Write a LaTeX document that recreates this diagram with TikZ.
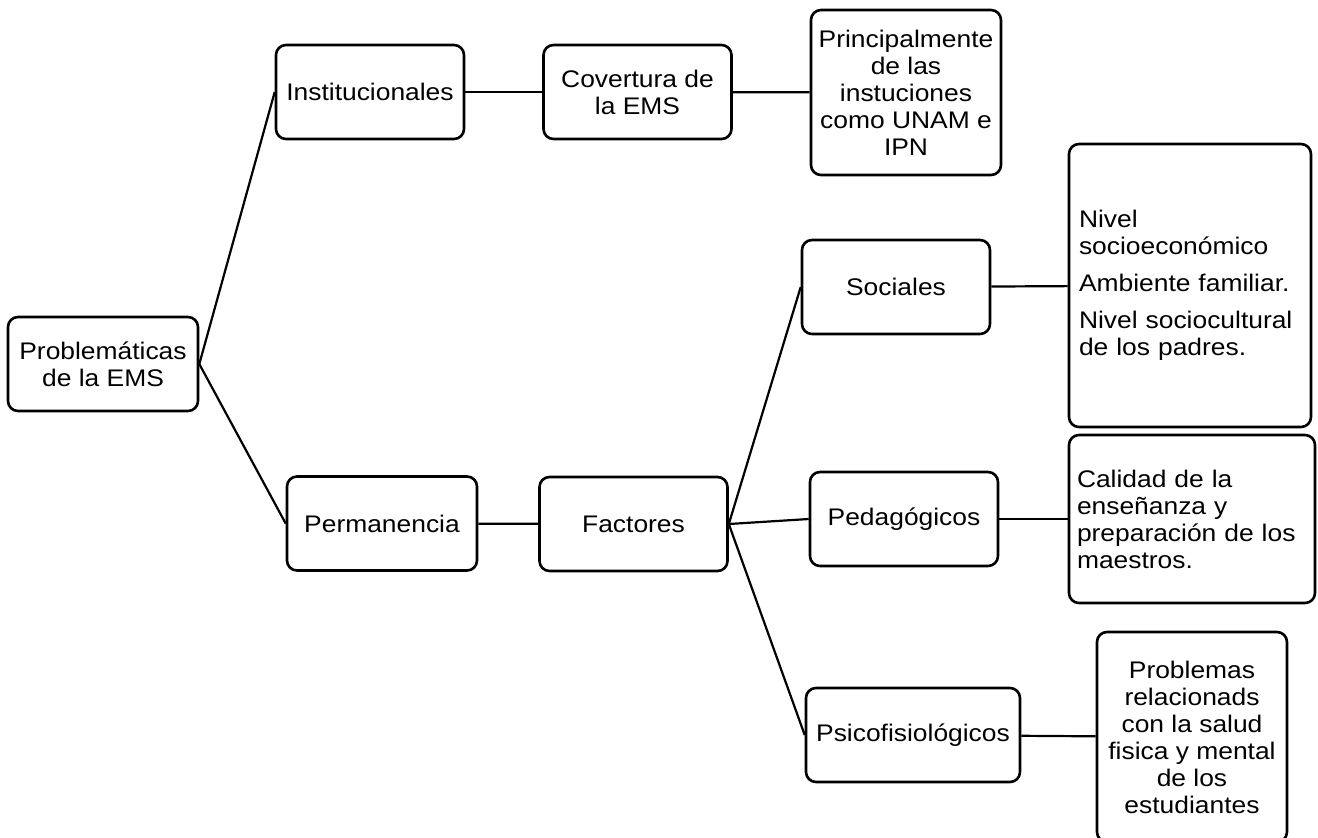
\documentclass[tikz,border=0pt]{standalone}
\usepackage{fontspec}
\setmainfont{Liberation Sans}[FakeStretch=1.1]
\usepackage{tikz}

\begin{document}
\begin{tikzpicture}[
        x=0.5pt, y=-0.5pt,
        caja/.style={rectangle, rounded corners=5pt, draw=black, line width=1.3pt, align=center, inner sep=0pt, font=\fontsize{12}{13.5}\selectfont, minimum width=94pt, minimum height=47pt},
        linea/.style={line width=1.1pt}
    ]
        \useasboundingbox (0,0) rectangle (1318,837);

        \node[caja, minimum width=95pt] (prob) at (103,364) {Problemáticas\\de la EMS};
        \node[caja] (inst) at (370,92) {Institucionales};
        \node[caja] (cov) at (637.5,92) {Covertura de\\la EMS};
        \node[caja, minimum width=95pt, minimum height=82.5pt] (princ) at (906,92.5) {Principalmente\\de las\\instuciones\\como UNAM e\\IPN};
        \node[caja, minimum width=95pt] (perm) at (382,523.5) {Permanencia};
        \node[caja] (fact) at (633.5,524) {Factores};
        \node[caja] (soc) at (896,287) {Sociales};
        \node[caja] (ped) at (904,519) {Pedagógicos};
        \node[caja, minimum width=107pt] (psico) at (913,735) {Psicofisiológicos};
        \node[caja, minimum width=121pt, minimum height=141.5pt, text width=111pt, align=left] (nivel) at (1190,285.5) {Nivel\\socioeconómico\\[5pt]Ambiente familiar.\\[5pt]Nivel sociocultural\\de los padres.};
        \node[caja, minimum width=123pt, minimum height=84pt, text width=115pt, align=left] (calidad) at (1192,519) {Calidad de la\\enseñanza y\\preparación de los\\maestros.};
        \node[caja, minimum width=95pt, minimum height=105pt] (probl) at (1192,737) {Problemas\\relacionads\\con la salud\\fisica y mental\\de los\\estudiantes};

        \draw[linea] (prob.east) -- (inst.west);
        \draw[linea] (prob.east) -- (perm.west);
        \draw[linea] (inst) -- (cov);
        \draw[linea] (cov) -- (princ);
        \draw[linea] (perm) -- (fact);
        \foreach \n in {soc,ped,psico}
            \draw[linea] (fact.east) -- (\n.west);
        \draw[linea] (soc) -- (nivel);
        \draw[linea] (ped) -- (calidad);
        \draw[linea] (psico) -- (probl);
    \end{tikzpicture}
\end{document}
